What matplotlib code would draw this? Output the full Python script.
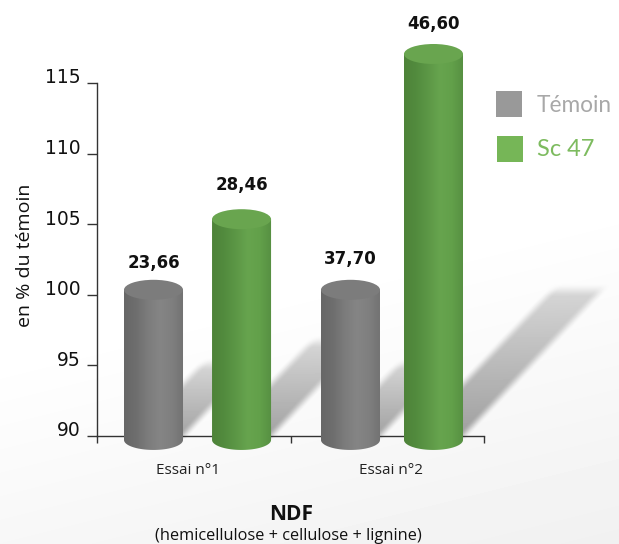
import numpy as np
import matplotlib
matplotlib.use("Agg")
import matplotlib.pyplot as plt
from matplotlib.colors import LinearSegmentedColormap
from matplotlib.patches import Ellipse, PathPatch, Rectangle
from matplotlib.path import Path
from matplotlib.transforms import ScaledTranslation

# ---------- data ----------
categories = ["Essai n°1", "Essai n°2"]
series_names = ["Témoin", "Sc 47"]
temoin_values = [100, 100]
sc47_values = [105, 116.7]
temoin_labels = ["23,66", "37,70"]
sc47_labels = ["28,46", "46,60"]
y_ticks = [90, 95, 100, 105, 110, 115]

W, H = 619, 544
fig = plt.figure(figsize=(W / 100, H / 100), dpi=100)

# axes geometry in pixels
AX_L, AX_R, AX_T, AX_B = 97, 484, 83, 436
PX_Y = (AX_B - AX_T) / 25
PX_X = (AX_R - AX_L) / 2
temoin_x = [0.292, 1.31]
sc47_x = [0.747, 1.739]
temoin_off = [23, 26]
sc47_off = [28, 25.5]
cat_off = [-4, 3]
bar_w = 0.305
RY = 10 / PX_Y
BASE = 89.72
TOP_SHIFT = 5 / PX_Y  # pseudo-3D lift of the cylinder tops


def px_x(v):
    return AX_L + v * PX_X


# ---------- background with soft cast shadows ----------
bg_ax = fig.add_axes([0, 0, 1, 1], zorder=0)
bg_ax.axis("off")
yy, xx = np.mgrid[0:H, 0:W]
bg = 1 - 0.055 * np.clip((yy - 280 + 0.25 * (xx - 300)) / 330, 0, 1)


def smooth(t):
    t = np.clip(t, 0, 1)
    return t * t * (3 - 2 * t)


shadow = np.zeros((H, W))
K = 0.95
for xs, vals in ((temoin_x, temoin_values), (sc47_x, sc47_values)):
    for xc, v in zip(xs, vals):
        x0 = px_x(xc - bar_w / 2) + 5
        x1 = px_x(xc + bar_w / 2) - 5
        h = 33 + 4.4 * (v - 90)
        dy = 440 - yy
        sx0 = x0 + K * dy
        sx1 = x1 + K * dy
        soft = 14
        m = smooth((xx - sx0) / soft + 0.5) * smooth((sx1 - xx) / soft + 0.5)
        m = m * smooth((h - dy) / soft + 0.5) * smooth(dy / 3)
        tone = 0.36 - 0.21 * np.clip(dy / h, 0, 1)
        shadow = np.maximum(shadow, m * tone)
img = bg * (1 - shadow)
bg_ax.imshow(img, cmap="gray", vmin=0, vmax=1, extent=[0, W, H, 0], aspect="auto",
             interpolation="bilinear")
bg_ax.set_xlim(0, W)
bg_ax.set_ylim(H, 0)

# ---------- main axes ----------
ax = fig.add_axes([AX_L / W, 1 - AX_B / H, (AX_R - AX_L) / W, (AX_B - AX_T) / H], zorder=1)
ax.patch.set_alpha(0)

gray_cmap = LinearSegmentedColormap.from_list(
    "g", ["#676767", "#6e6e6e", "#7c7c7c", "#858585", "#7f7f7f", "#727272"])
green_cmap = LinearSegmentedColormap.from_list(
    "v", ["#4e8339", "#528b3e", "#5c9746", "#67a44e", "#62a04a", "#568f42"])
grad = np.linspace(0, 1, 256).reshape(1, -1)


def cylinder(xc, value, cmap, top_color):
    top = value + TOP_SHIFT
    ax.bar(xc, top - BASE, bar_w, bottom=BASE, color="none", clip_on=False, zorder=3)
    x0, x1 = xc - bar_w / 2, xc + bar_w / 2
    t = np.linspace(np.pi, 2 * np.pi, 40)
    px = xc + bar_w / 2 * np.cos(t)
    py = BASE + RY * np.sin(t)
    verts = np.vstack([np.c_[px, py], [[x1, top], [x0, top], [px[0], py[0]]]])
    clip = PathPatch(Path(verts), transform=ax.transData, fc="none", ec="none")
    ax.add_patch(clip)
    im = ax.imshow(grad, cmap=cmap, extent=[x0, x1, BASE - RY, top], aspect="auto", zorder=4)
    im.set_clip_path(clip)
    im.set_clip_box(fig.bbox)
    ax.add_patch(Ellipse((xc, top), bar_w, 2 * RY, fc=top_color, ec="none",
                         zorder=5, clip_on=False))


for xc, v in zip(temoin_x, temoin_values):
    cylinder(xc, v, gray_cmap, "#7c7c7c")
for xc, v in zip(sc47_x, sc47_values):
    cylinder(xc, v, green_cmap, "#69a54f")

ax.set_xlim(0, 2)
ax.set_ylim(90, 115)

for s in ("top", "right"):
    ax.spines[s].set_visible(False)
for s in ("left", "bottom"):
    ax.spines[s].set_color("#333333")
    ax.spines[s].set_linewidth(1.0)

ax.set_yticks(y_ticks)
ax.set_yticklabels([str(t) for t in y_ticks], fontsize=13.5, family="DejaVu Sans",
                   color="#111111")
ax.tick_params(axis="y", length=7, width=1, color="#333333", pad=5)
off = ScaledTranslation(0, 5 / 100, fig.dpi_scale_trans)
for lab in ax.get_yticklabels():
    lab.set_transform(lab.get_transform() + off)
    lab.set_va("center")

ax.set_xticks([0, 1, 2])
ax.set_xticklabels([])
ax.tick_params(axis="x", length=5, width=1, color="#333333")

for i, name in enumerate(categories):
    ax.annotate(name, (i + 0.5, 90), xytext=(cat_off[i], -25),
                textcoords="offset points", ha="center", va="center",
                fontsize=11, family="Open Sans", color="#222222", annotation_clip=False)

for xs, vals, labs, offs in ((temoin_x, temoin_values, temoin_labels, temoin_off),
                             (sc47_x, sc47_values, sc47_labels, sc47_off)):
    for xc, v, lab, o in zip(xs, vals, labs, offs):
        ax.annotate(lab, (xc, v), xytext=(0, o), textcoords="offset points",
                    ha="center", va="center", fontsize=12, fontweight="bold",
                    family="DejaVu Sans", color="#111111", annotation_clip=False,
                    zorder=6)

# ---------- outside text and legend ----------
def ftext(px, py, s, **kw):
    fig.text(px / W, 1 - py / H, s, ha=kw.pop("ha", "center"), va="center", zorder=6, **kw)


ftext(25, 255, "en % du témoin", rotation=90, fontsize=14, family="Open Sans", color="#111111")
ftext(291, 515, "NDF", fontsize=15, fontweight="bold", family="Open Sans", color="#111111")
ftext(288, 536, "(hemicellulose + cellulose + lignine)", fontsize=11.8, family="Open Sans",
      color="#111111")

fig.add_artist(Rectangle((496 / W, 1 - 117 / H), 26 / W, 26 / H, transform=fig.transFigure,
                         fc="#999999", ec="none", zorder=6))
fig.add_artist(Rectangle((497 / W, 1 - 162 / H), 26 / W, 26 / H, transform=fig.transFigure,
                         fc="#76b657", ec="none", zorder=6))
ftext(537, 105, series_names[0], ha="left", fontsize=16.3, family="Lato", fontweight="normal",
      color="#a8a8a8")
ftext(537, 150, series_names[1], ha="left", fontsize=17, family="Lato", fontweight="normal",
      color="#7dbb5f")

fig.savefig("out.png", dpi=100)
